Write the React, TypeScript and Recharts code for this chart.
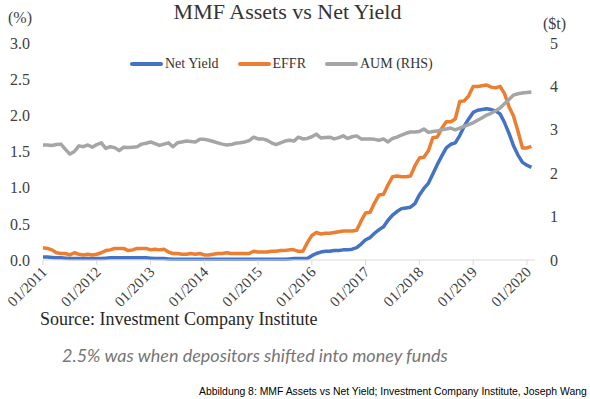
import { LineChart, Line, XAxis, YAxis, Legend } from "recharts";

// monthly, 01/2011 .. 02/2020
const tickLabels = [
  "01/2011", "01/2012", "01/2013", "01/2014", "01/2015",
  "01/2016", "01/2017", "01/2018", "01/2019", "01/2020",
];

const netYield = [
  0.04, 0.04, 0.035, 0.03, 0.03, 0.025, 0.02, 0.02, 0.02, 0.02, 0.02, 0.02,
  0.02, 0.02, 0.025, 0.03, 0.03, 0.03, 0.03, 0.03, 0.03, 0.03, 0.03, 0.03,
  0.025, 0.02, 0.02, 0.02, 0.015, 0.01, 0.01, 0.01, 0.01, 0.01, 0.01, 0.01,
  0.01, 0.01, 0.01, 0.01, 0.01, 0.01, 0.01, 0.01, 0.01, 0.01, 0.01, 0.01,
  0.01, 0.01, 0.01, 0.01, 0.01, 0.01, 0.01, 0.015, 0.02, 0.02, 0.02, 0.02,
  0.06, 0.09, 0.11, 0.12, 0.12, 0.13, 0.13, 0.14, 0.14, 0.15, 0.17, 0.22,
  0.28, 0.31, 0.37, 0.42, 0.46, 0.55, 0.62, 0.67, 0.71, 0.72, 0.73, 0.78,
  0.9, 0.99, 1.06, 1.19, 1.32, 1.44, 1.55, 1.6, 1.62, 1.72, 1.85, 1.95,
  2.04, 2.07, 2.08, 2.09, 2.08, 2.06, 2.02, 1.9, 1.75, 1.58, 1.45, 1.35,
  1.31, 1.28,
];

const effr = [
  0.17, 0.16, 0.14, 0.1, 0.09, 0.09, 0.07, 0.1, 0.08, 0.07, 0.08, 0.07,
  0.08, 0.1, 0.13, 0.14, 0.16, 0.16, 0.16, 0.13, 0.14, 0.16, 0.16, 0.16,
  0.14, 0.15, 0.14, 0.15, 0.11, 0.09, 0.09, 0.08, 0.08, 0.09, 0.08, 0.09,
  0.07, 0.07, 0.08, 0.09, 0.09, 0.1, 0.09, 0.09, 0.09, 0.09, 0.09, 0.12,
  0.11, 0.11, 0.11, 0.12, 0.12, 0.13, 0.13, 0.14, 0.14, 0.12, 0.12, 0.24,
  0.34, 0.38, 0.36, 0.37, 0.37, 0.38, 0.39, 0.4, 0.4, 0.4, 0.41, 0.54,
  0.65, 0.66, 0.79, 0.9, 0.91, 1.04, 1.15, 1.16, 1.15, 1.15, 1.16, 1.3,
  1.41, 1.42, 1.51, 1.69, 1.7, 1.82, 1.91, 1.91, 1.95, 2.19, 2.2, 2.27,
  2.4, 2.4, 2.41, 2.42, 2.39, 2.38, 2.4, 2.3, 2.12, 1.99, 1.78, 1.55,
  1.55, 1.57,
];

// $t, right axis
const aum = [
  2.65, 2.65, 2.64, 2.66, 2.67, 2.55, 2.44, 2.5, 2.63, 2.61, 2.65, 2.6,
  2.66, 2.7, 2.57, 2.61, 2.59, 2.52, 2.6, 2.59, 2.6, 2.61, 2.67, 2.69,
  2.72, 2.68, 2.64, 2.67, 2.7, 2.61, 2.7, 2.72, 2.74, 2.73, 2.72, 2.78,
  2.78, 2.76, 2.73, 2.7, 2.67, 2.65, 2.66, 2.69, 2.7, 2.72, 2.75, 2.83,
  2.79, 2.79, 2.76, 2.7, 2.66, 2.7, 2.74, 2.76, 2.74, 2.83, 2.79, 2.8,
  2.84, 2.9, 2.81, 2.82, 2.83, 2.79, 2.82, 2.86, 2.8, 2.84, 2.86, 2.79,
  2.79, 2.79, 2.78, 2.76, 2.79, 2.72, 2.8, 2.83, 2.88, 2.92, 2.95, 2.95,
  2.96, 3.02, 2.94, 2.96, 2.97, 3.0, 3.02, 3.04, 3.0, 3.04, 3.08, 3.12,
  3.16, 3.22, 3.28, 3.34, 3.38, 3.44, 3.5, 3.6, 3.7, 3.8, 3.83, 3.85,
  3.86, 3.87,
];

const pctTicks = [0, 0.5, 1, 1.5, 2, 2.5, 3];
const usdTicks = [0, 1, 2, 3, 4, 5];

const data = netYield.map((v, i) => ({ m: i, netYield: v, effr: effr[i], aum: aum[i] }));

const SERIF = "'Liberation Serif', 'Times New Roman', serif";
const TXT = "#404040";

const series = [
  { key: "netYield", name: "Net Yield", color: "#4472C4", axis: "left" },
  { key: "effr", name: "EFFR", color: "#ED7D31", axis: "left" },
  { key: "aum", name: "AUM (RHS)", color: "#A5A5A5", axis: "right" },
];

function XTick({ x, y, payload }: { x?: number; y?: number; payload?: { value: number } }) {
  if (x == null || y == null || !payload) return null;
  const label = tickLabels[Math.round(payload.value / 12)];
  return (
    <g transform={`translate(${x + 5},${y + 6})`}>
      <text x={0} y={0} textAnchor="end" transform="rotate(-45)" fontSize={15} fontFamily={SERIF} fill={TXT}>
        {label}
      </text>
    </g>
  );
}

function LegendBox() {
  return (
    <div style={{ display: "flex", alignItems: "center", paddingLeft: 130, fontFamily: SERIF, fontSize: 14, color: "#333" }}>
      {series.map((s) => (
        <span key={s.key} style={{ display: "flex", alignItems: "center", marginRight: 19 }}>
          <span style={{ display: "inline-block", width: 33, height: 4, borderRadius: 2, background: s.color, marginRight: 2 }} />
          {s.name}
        </span>
      ))}
    </div>
  );
}

export default function App() {
  return (
    <div style={{ position: "absolute", left: 0, top: 0, width: 590, height: 399, background: "#fff", overflow: "hidden" }}>
      <LineChart
        width={590}
        height={399}
        data={data}
        margin={{ top: 43, right: 10, bottom: 89, left: 8 }}
      >
        <XAxis
          dataKey="m"
          type="number"
          domain={[0, 109.8]}
          ticks={tickLabels.map((_, i) => i * 12)}
          interval={0}
          height={50}
          axisLine={{ stroke: "#d9d9d9" }}
          tickLine={{ stroke: "#d9d9d9" }}
          tickSize={5}
          tickMargin={2}
          tick={(p) => <XTick {...p} />}
        />
        <YAxis
          yAxisId="left"
          width={35}
          domain={[0, 3]}
          ticks={pctTicks}
          tickFormatter={(v: number) => v.toFixed(1)}
          axisLine={false}
          tickLine={false}
          tickSize={0}
          tickMargin={13}
          tick={{ fontSize: 16, fontFamily: SERIF, fill: TXT }}
        />
        <YAxis
          yAxisId="right"
          orientation="right"
          width={45}
          domain={[0, 5]}
          ticks={usdTicks}
          axisLine={false}
          tickLine={false}
          tickSize={0}
          tickMargin={15}
          tick={{ fontSize: 16, fontFamily: SERIF, fill: TXT }}
        />
        <Legend
          layout="horizontal"
          verticalAlign="middle"
          align="center"
          wrapperStyle={{ top: 56, left: 0, width: 590, height: 18 }}
          content={() => <LegendBox />}
        />
        {series.map((s) => (
          <Line
            key={s.key}
            yAxisId={s.axis}
            dataKey={s.key}
            name={s.name}
            stroke={s.color}
            strokeWidth={3.5}
            strokeLinejoin="round"
            dot={false}
            activeDot={false}
            isAnimationActive={false}
          />
        ))}
      </LineChart>

      <svg width={590} height={399} style={{ position: "absolute", left: 0, top: 0, pointerEvents: "none" }}>
        <text x={287.5} y={19} textAnchor="middle" fontSize={22} fontFamily={SERIF} fill="#333">
          MMF Assets vs Net Yield
        </text>
        <text x={8} y={23} fontSize={16} fontFamily={SERIF} fill={TXT}>(%)</text>
        <text x={554.5} y={29} textAnchor="middle" fontSize={16} fontFamily={SERIF} fill={TXT}>($t)</text>
        <text x={40} y={325} fontSize={18} fontFamily={SERIF} fill="#262626">
          Source: Investment Company Institute
        </text>
        <text x={62} y={362} fontSize={18} fontStyle="italic" fontFamily="Lato, 'Open Sans', sans-serif" fill="#767676">
          2.5% was when depositors shifted into money funds
        </text>
        <text x={199} y={395} fontSize={10.4} fontFamily="'Liberation Sans', Arial, sans-serif" fill="#000">
          Abbildung 8: MMF Assets vs Net Yield; Investment Company Institute, Joseph Wang
        </text>
      </svg>
    </div>
  );
}
